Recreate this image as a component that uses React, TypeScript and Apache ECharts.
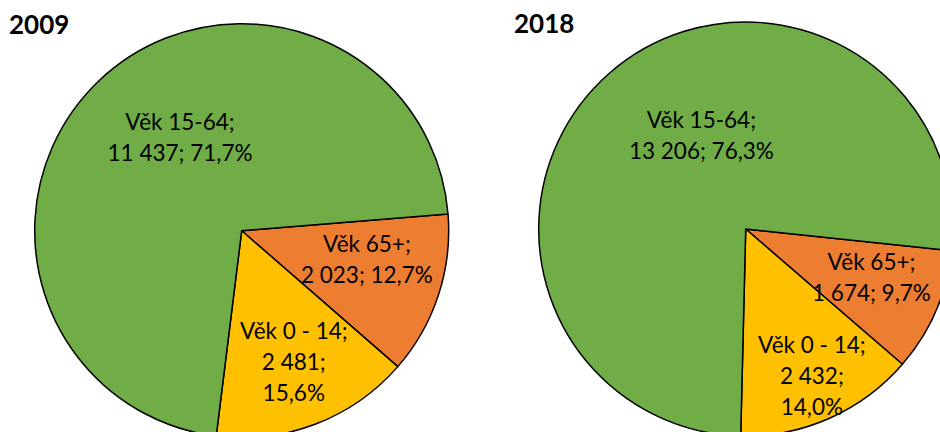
import React, { useEffect, useRef } from "react";
import * as echarts from "echarts";

const years = ["2009", "2018"];
const categories = ["Věk 65+", "Věk 0 - 14", "Věk 15-64"];
const values2009 = [2023, 2481, 11437];
const values2018 = [1674, 2432, 13206];
const colors = ["#ED7D31", "#FFC000", "#70AD47"];
const threeLineLabel = [false, true, false];

const fmtNum = (v: number) => String(v).replace(/\B(?=(\d{3})+(?!\d))/g, " ");

function makeFormatter(values: number[]) {
  const total = values.reduce((a, b) => a + b, 0);
  return (p: any) => {
    const pct = ((p.value / total) * 100).toFixed(1).replace(".", ",") + "%";
    const num = fmtNum(p.value);
    if (threeLineLabel[p.dataIndex]) return `${p.name};\n${num};\n${pct}`;
    return `${p.name};\n${num}; ${pct}`;
  };
}

const offsets2009 = [
  [24, -5],
  [14, 31],
  [12, -17],
];
const offsets2018 = [
  [28, 6],
  [23, 49],
  [26, -14],
];

export default function App() {
  const ref = useRef<HTMLDivElement>(null);
  useEffect(() => {
    if (!ref.current) return;
    const chart = echarts.init(ref.current, undefined, { renderer: "svg" });
    const makeSeries = (
      values: number[],
      center: number[],
      startAngle: number,
      offsets: number[][]
    ) => ({
      type: "pie",
      center,
      radius: 207,
      startAngle,
      clockwise: true,
      avoidLabelOverlap: false,
      emphasis: { disabled: true },
      itemStyle: { borderColor: "#000", borderWidth: 1.5 },
      label: {
        show: true,
        position: "inside",
        formatter: makeFormatter(values),
        fontFamily: "Lato",
        fontSize: 22.5,
        lineHeight: 31,
        color: "#000",
        align: "center",
      },
      labelLine: { show: false },
      labelLayout: (params: any) => ({
        dx: offsets[params.dataIndex][0],
        dy: offsets[params.dataIndex][1],
      }),
      data: values.map((v, i) => ({
        name: categories[i],
        value: v,
        itemStyle: { color: colors[i] },
      })),
    });
    const titleStyle = {
      fontFamily: "Lato",
      fontSize: 26,
      fontWeight: "bold",
      fill: "#000",
      verticalAlign: "middle",
      align: "left",
    };
    chart.setOption({
      animation: false,
      backgroundColor: "#fff",
      graphic: [
        { type: "text", x: 9, y: 24, style: { ...titleStyle, text: years[0] } },
        { type: "text", x: 514, y: 22.5, style: { ...titleStyle, text: years[1] } },
      ],
      series: [
        makeSeries(values2009, [241.7, 230.7], 4.64, offsets2009),
        makeSeries(values2018, [745.7, 229], -6, offsets2018),
      ],
    });
    return () => chart.dispose();
  }, []);
  return (
    <div
      ref={ref}
      style={{ position: "fixed", left: 0, top: 0, width: 940, height: 432 }}
    />
  );
}
